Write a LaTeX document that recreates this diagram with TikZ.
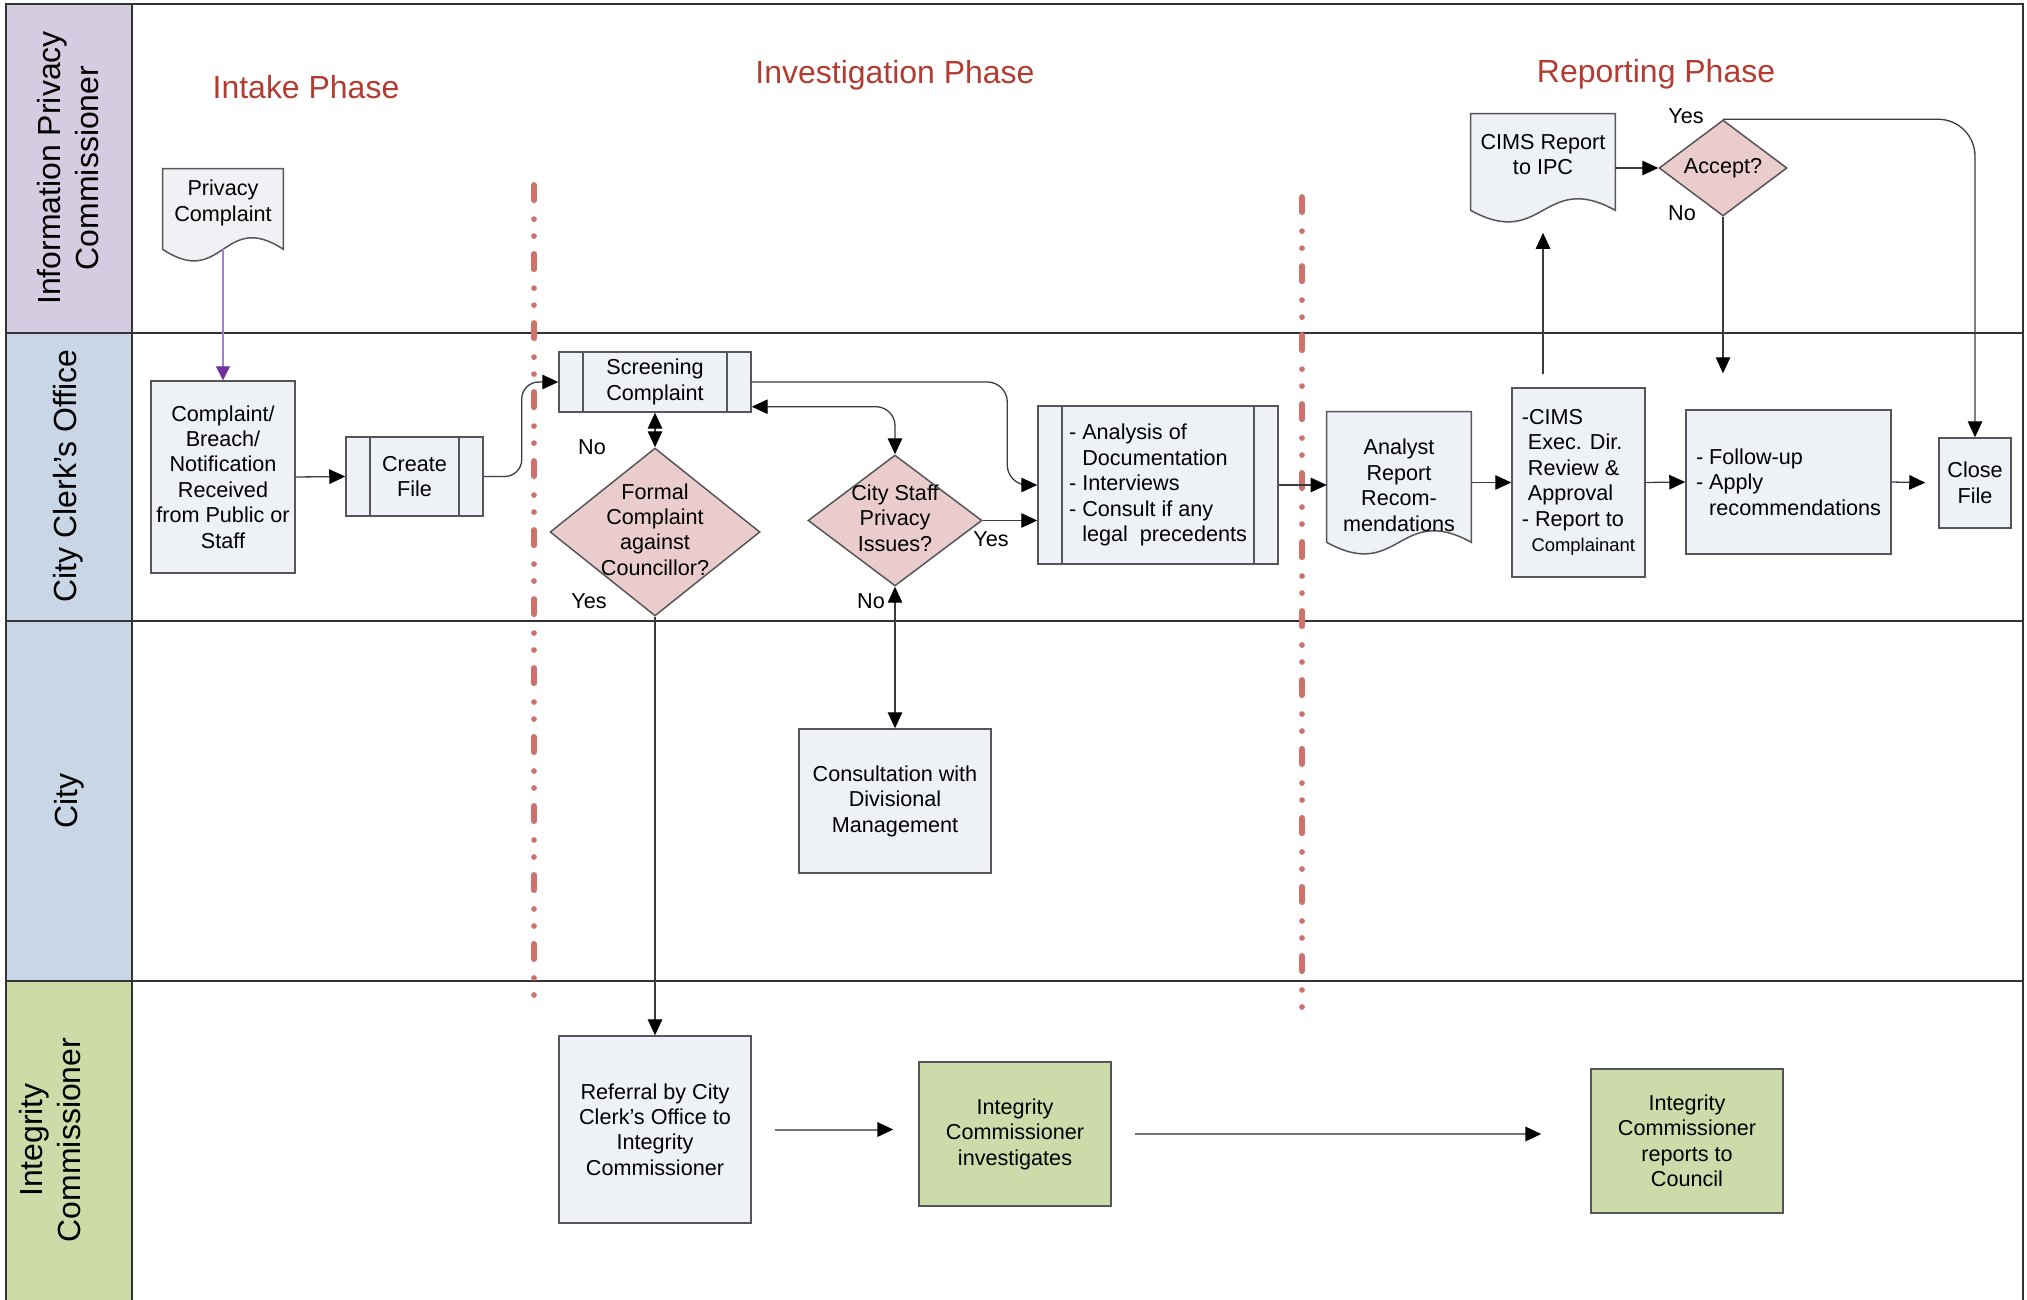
\documentclass[tikz,border=0pt]{standalone}
\usepackage{fontspec}
\setmainfont{Liberation Sans}
\usetikzlibrary{arrows.meta,shapes.geometric,backgrounds}

\definecolor{lanepurple}{RGB}{213,204,226}
\definecolor{laneblue}{RGB}{200,214,230}
\definecolor{lanegreen}{RGB}{205,219,169}
\definecolor{boxfill}{RGB}{238,241,246}
\definecolor{docfill}{RGB}{242,240,245}
\definecolor{boxline}{RGB}{85,85,90}
\definecolor{decfill}{RGB}{235,204,204}
\definecolor{icgreen}{RGB}{204,219,169}
\definecolor{phasered}{RGB}{178,60,50}
\definecolor{phasedash}{RGB}{207,112,106}
\definecolor{ipcpurple}{RGB}{112,48,160}
\definecolor{ipcline}{RGB}{165,125,210}
\definecolor{connline}{RGB}{60,60,60}

% text inside a decision, kept out of the diamond size
\newcommand{\dtext}[1]{\smash{\makebox[0pt]{\raisebox{-0.25em}{\begin{tabular}{@{}c@{}}#1\end{tabular}}}}}
% text of a document shape, moved up or down without moving the shape
\newcommand{\doctext}[2]{\raisebox{#1}[\height][\depth]{\begin{tabular}{@{}c@{}}#2\end{tabular}}}
\newcommand{\dashgap}{\hphantom{-}\ }
% wavy document outline round a named node
\newcommand{\docshape}[2][boxfill]{%
  \draw[docline, fill=#1] (#2.south west) -- (#2.north west) -- (#2.north east) -- (#2.south east)
    .. controls ([yshift=0.8cm]#2.south) and ([yshift=-0.8cm]#2.south) .. (#2.south west) -- cycle;}

\tikzset{
  >={Triangle[length=0.32cm,width=0.29cm,color=black]},
  laneline/.style={draw=black!80, line width=0.04cm},
  lanetitle/.style={rotate=90, align=center, font=\fontsize{18.2}{21.6}\selectfont},
  phase/.style={text=phasered, font=\fontsize{18.2}{21.6}\selectfont},
  phaseline/.style={draw=phasedash, line width=0.114cm, line cap=round,
    dash pattern=on 0.306cm off 0.377cm on 0cm off 0.34cm on 0cm off 0.357cm},
  box/.style={rectangle, draw=boxline, line width=0.03cm, fill=boxfill, align=center, inner sep=0pt},
  proc/.style={box, path picture={
      \draw[boxline, line width=0.03cm] ([xshift=0.48cm]path picture bounding box.north west) -- ([xshift=0.48cm]path picture bounding box.south west);
      \draw[boxline, line width=0.03cm] ([xshift=-0.48cm]path picture bounding box.north east) -- ([xshift=-0.48cm]path picture bounding box.south east);}},
  decision/.style={diamond, draw=boxline, line width=0.03cm, fill=decfill, inner sep=0pt},
  doc/.style={rectangle, inner sep=0pt},
  docline/.style={draw=boxline, line width=0.03cm},
  conn/.style={draw=connline, line width=0.026cm},
  ipcarrow/.style={draw=ipcline, line width=0.026cm, -{Triangle[length=0.28cm,width=0.28cm,color=ipcpurple]}},
  icarrow/.style={draw=black!55, line width=0.04cm, ->}
}

\begin{document}
\begin{tikzpicture}[x=0.02cm, y=-0.02cm, font=\fontsize{12.3}{14.5}\selectfont]
  \useasboundingbox (0,0) rectangle (2027,1300);

  % swim lanes
  \fill[lanepurple] (6,4) rectangle (132,333);
  \fill[laneblue] (6,333) rectangle (132,621);
  \fill[laneblue] (6,621) rectangle (132,981);
  \fill[lanegreen] (6,981) rectangle (132,1300);
  \draw[laneline] (6,1300) -- (6,4) -- (2023,4) -- (2023,1300);
  \draw[laneline] (132,4) -- (132,1300);
  \foreach \y in {333,621,981}
    \draw[laneline] (6,\y) -- (2023,\y);

  \node[lanetitle] (lipc) at (68,168) {Information Privacy\\Commissioner};
  \node[lanetitle] (lcco) at (68,476) {City Clerk's Office};
  \node[lanetitle] (lcity) at (69,801) {City};
  \node[lanetitle] (lic) at (50,1140) {Integrity\\Commissioner};

  % phases
  \draw[phaseline] (534,185) -- (534,1004);
  \draw[phaseline] (1302,197) -- (1302,1016);
  \node[phase] (intake) at (306,87) {Intake Phase};
  \node[phase] (invest) at (895,75) {Investigation Phase};
  \node[phase] (report) at (1656,74) {Reporting Phase};

  \begin{scope}
    \node[doc, minimum width=2.4cm, minimum height=1.6cm] (pc) at (223,209) {\doctext{0.11cm}{Privacy\\Complaint}};
    \node[box, minimum width=2.88cm, minimum height=3.84cm] (recv) at (223,477) {Complaint/\\Breach/\\Notification\\Received\\from Public or\\Staff};
    \node[proc, minimum width=2.74cm, minimum height=1.58cm] (cfile) at (414.5,476.5) {Create\\File};
    \node[proc, minimum width=3.84cm, minimum height=1.2cm] (screen) at (655,382) {Screening\\Complaint};
    \node[decision, minimum width=4.2cm, minimum height=3.36cm] (formal) at (655,532) {\dtext{Formal\\Complaint\\against\\Councillor?}};
    \node[decision, minimum width=3.48cm, minimum height=2.62cm] (staff) at (895,520.5) {\dtext{City Staff\\Privacy\\Issues?}};
    \node[box, minimum width=3.84cm, minimum height=2.88cm] (consult) at (895,801) {Consultation with\\Divisional\\Management};
    \node[proc, minimum width=4.8cm, minimum height=3.16cm, align=left] (anal) at (1158,485) {- Analysis of\\\dashgap Documentation\\- Interviews\\- Consult if any\\\dashgap legal\ \ precedents};
    \node[doc, minimum width=2.88cm, minimum height=2.6cm] (analyst) at (1399,477) {\doctext{-0.22cm}{Analyst\\Report\\Recom-\\mendations}};
    \node[box, minimum width=2.66cm, minimum height=3.78cm, align=left] (cims) at (1578.5,482.5) {-CIMS\\\ Exec. Dir.\\\ Review \&\\\ Approval\\- Report to\\\ \,{\fontsize{10.5}{12}\selectfont Complainant}};
    \node[box, minimum width=4.1cm, minimum height=2.88cm, align=left] (fup) at (1788.5,482) {- Follow-up\\- Apply\\\dashgap recommendations};
    \node[box, minimum width=1.44cm, minimum height=1.8cm] (close) at (1975,483) {Close\\File};
    \node[doc, minimum width=2.88cm, minimum height=1.92cm] (cimsrep) at (1543,162) {\doctext{0.1cm}{CIMS Report\\to IPC}};
    \node[decision, minimum width=2.56cm, minimum height=1.92cm] (accept) at (1723,168) {\dtext{Accept?}};
    \node[box, minimum width=3.84cm, minimum height=3.74cm] (refer) at (655,1129.5) {Referral by City\\Clerk's Office to\\Integrity\\Commissioner};
    \node[box, fill=icgreen, minimum width=3.84cm, minimum height=2.88cm] (icinv) at (1015,1134) {Integrity\\Commissioner\\investigates};
    \node[box, fill=icgreen, minimum width=3.84cm, minimum height=2.88cm] (icrep) at (1687,1141) {Integrity\\Commissioner\\reports to\\Council};
  \end{scope}

  \begin{scope}[on background layer]
    \docshape[docfill]{pc}
    \docshape{analyst}
    \docshape{cimsrep}
  \end{scope}

  % answers
  \node (no1) at (592,447) {No};
  \node (yes1) at (589,601) {Yes};
  \node (yes2) at (991,539) {Yes};
  \node (no2) at (871,601) {No};
  \node (yes3) at (1686,116) {Yes};
  \node (no3) at (1682,213) {No};

  \begin{scope}[every edge/.style={draw, conn}]
    \path (pc.south) edge[ipcarrow] (recv.north);
    \path (recv.east) edge[->] (cfile.west);
    \path (screen.south) edge[<->] (formal.north);
    \path (formal.south) edge[->] (refer.north);
    \path (staff.east) edge[->] (staff.east -| anal.west);
    \path (staff.south) edge[<->] (consult.north);
    \path (anal.east) edge[->] (anal.east -| analyst.west);
    \path (cims.west -| analyst.east) edge[->] (cims.west);
    \path (cims.east) edge[->] (fup.west);
    \path (fup.east) edge[->, shorten >=0.26cm] (close.west);
    \path (cimsrep.south |- cims.north) edge[->, shorten <=0.26cm, shorten >=0.45cm] (cimsrep.south);
    \path (accept.west -| cimsrep.east) edge[->] (accept.west);
    \path (accept.south) edge[->, shorten >=0.72cm] (accept.south |- fup.north);
    \path (refer.east) edge[icarrow, shorten <=0.46cm, shorten >=0.5cm] (refer.east -| icinv.west);
    \path (icinv.east) edge[icarrow, shorten <=0.46cm, shorten >=0.98cm] (icinv.east -| icrep.west);
  \end{scope}
  \draw[conn, ->, rounded corners=0.34cm] (cfile.east) -- ++(38,0) |- (screen.west);
  \draw[conn, <->, rounded corners=0.38cm] ([yshift=0.12cm]screen.south east) -| (staff.north);
  \draw[conn, ->, rounded corners=0.4cm] (screen.east) -| ([xshift=-0.6cm]anal.west) -- (anal.west);
  \draw[conn, ->, rounded corners=0.74cm] (accept.north) -| (close.north);

\end{tikzpicture}
\end{document}
